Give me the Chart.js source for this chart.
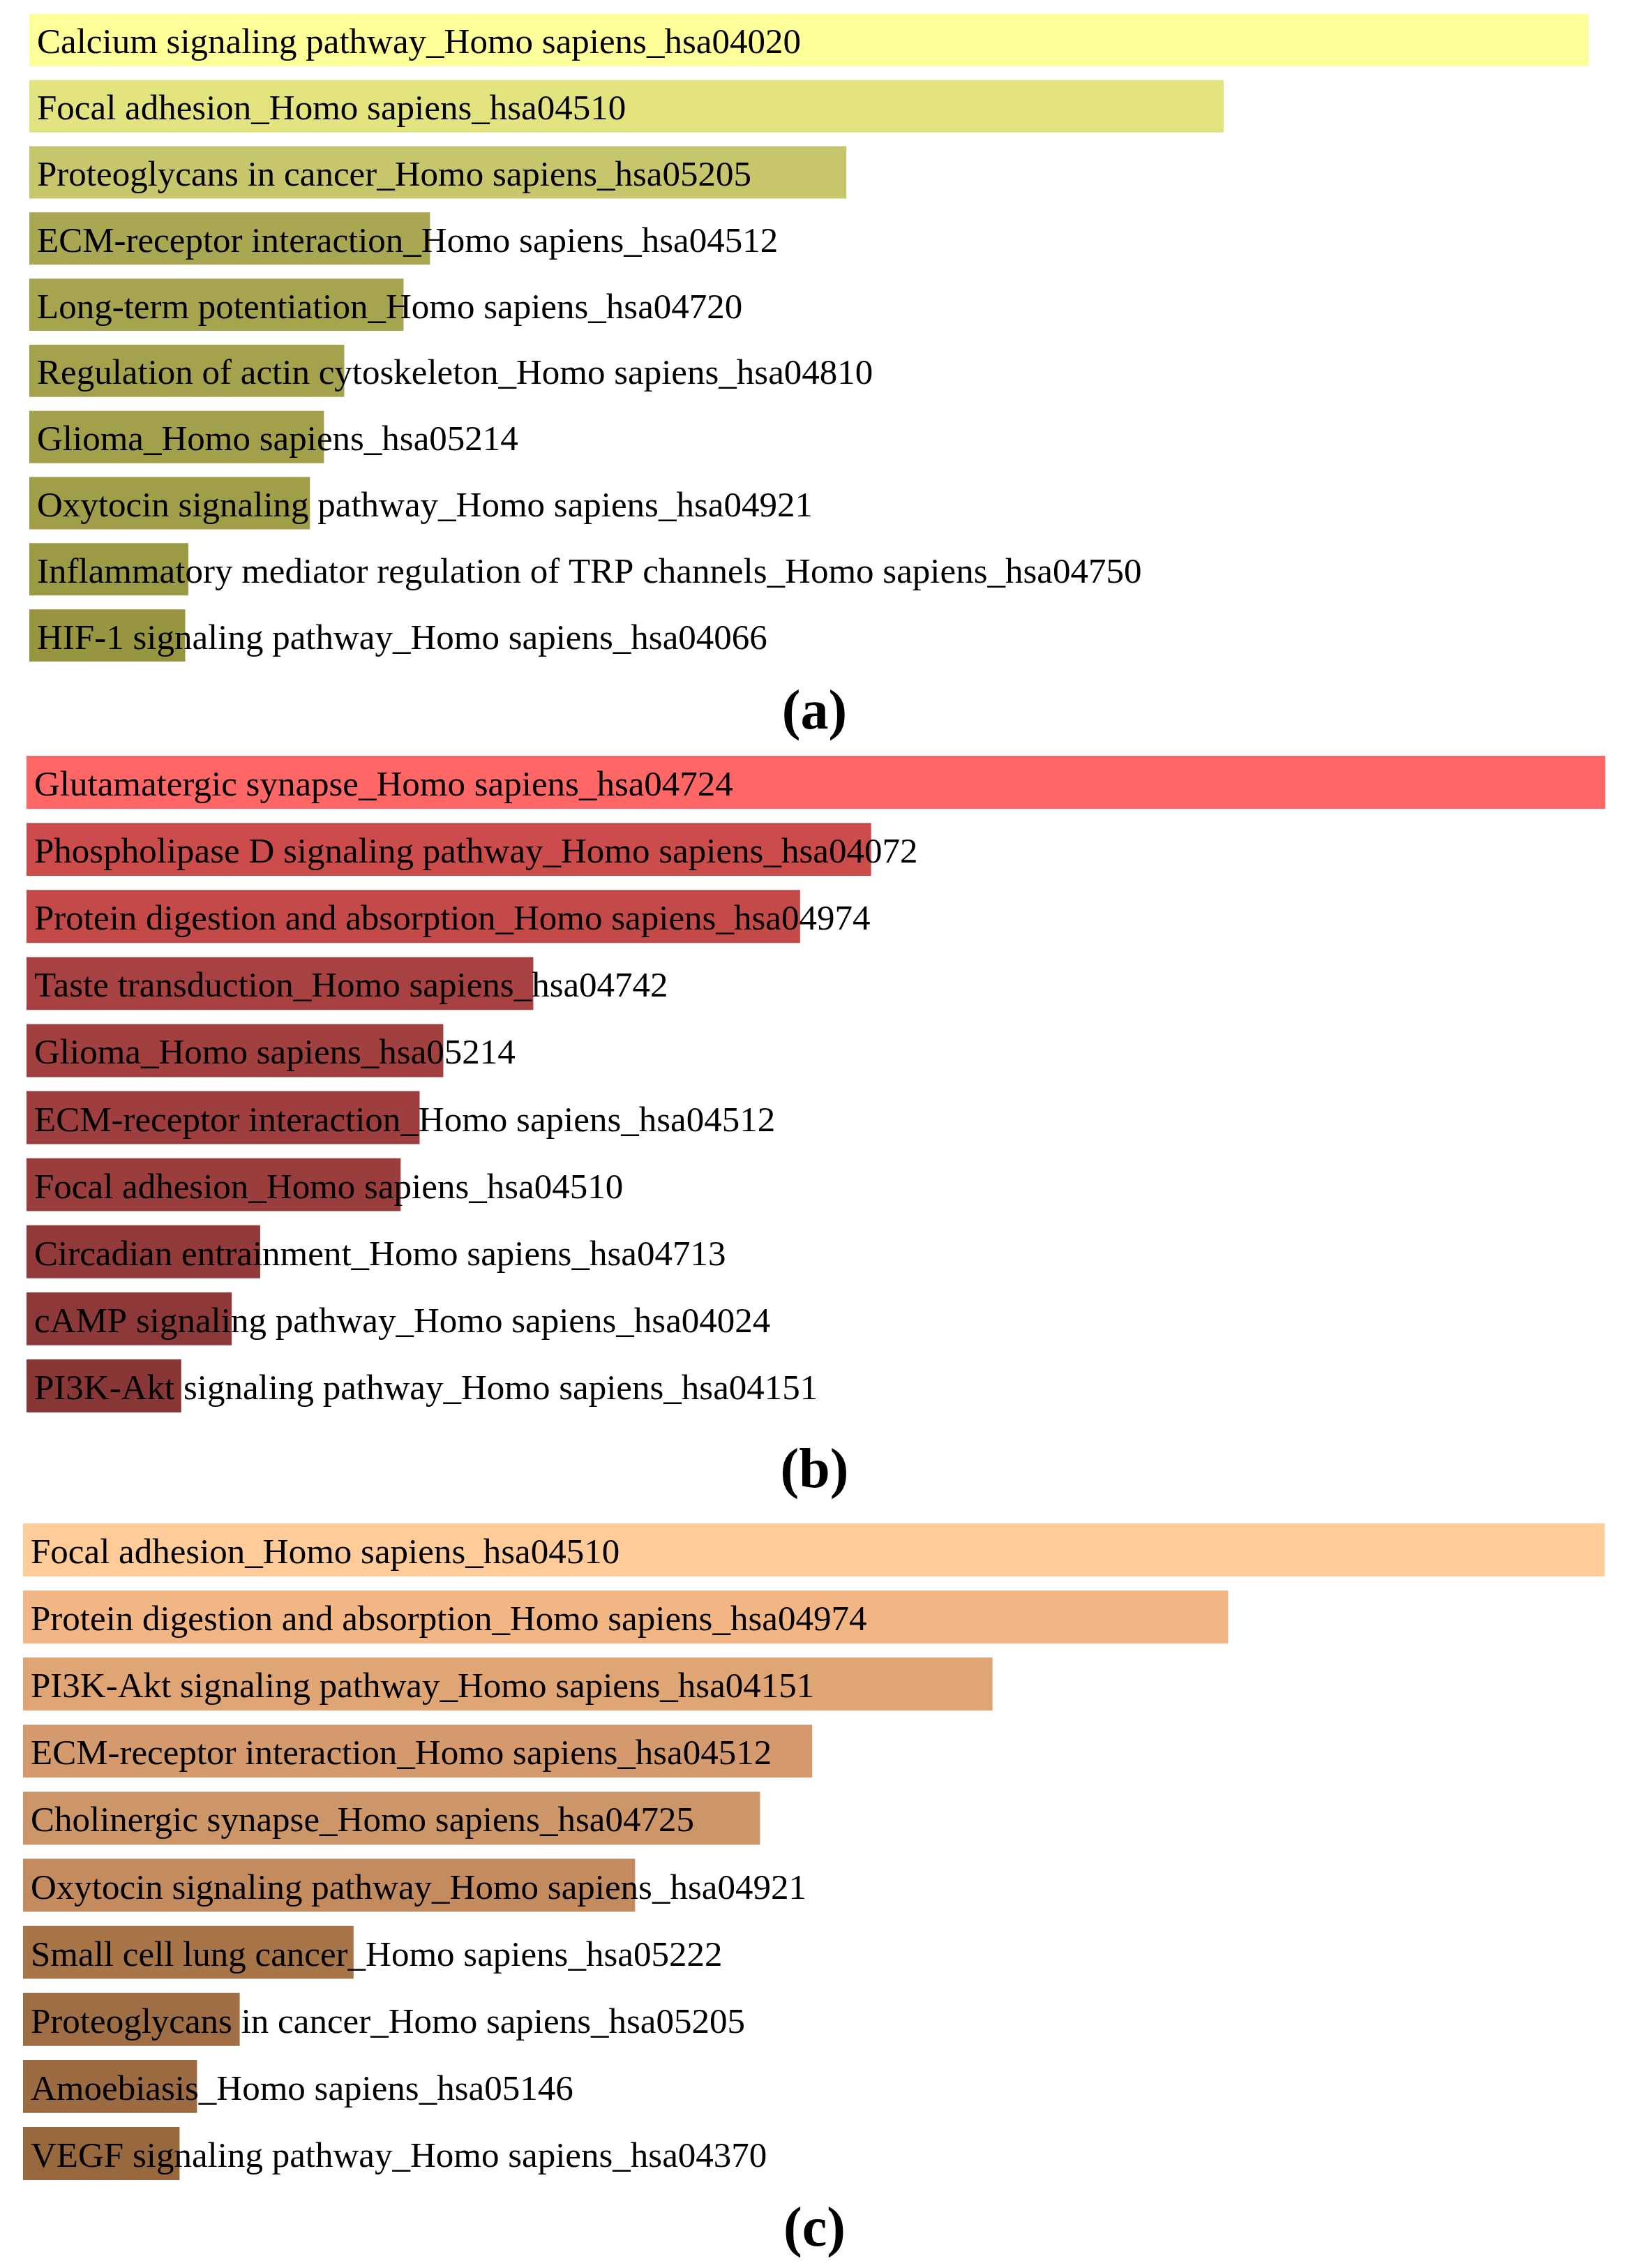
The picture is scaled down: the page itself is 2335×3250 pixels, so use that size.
<!DOCTYPE html>
<html>
<head>
<meta charset="utf-8">
<script src="https://cdn.jsdelivr.net/npm/chart.js@4/dist/chart.umd.min.js"></script>
<style>
    body { margin: 0; background: #fff; width: 2335px; height: 3250px; position: relative; overflow: hidden; }
    .panel { position: absolute; }
    .tag { position: absolute; left: 0; width: 2335px; text-align: center; font-family: "Liberation Serif", "DejaVu Serif", serif; font-weight: bold; font-size: 80px; line-height: 80px; color: #000; }
</style>
</head>
<body>
<div class="panel" id="wrap-a" style="left:42px;top:10px"><canvas id="chart-a"></canvas></div>
<div class="tag" style="top:977px">(a)</div>
<div class="panel" id="wrap-b" style="left:38px;top:1073px"><canvas id="chart-b"></canvas></div>
<div class="tag" style="top:2064px">(b)</div>
<div class="panel" id="wrap-c" style="left:33px;top:2173px"><canvas id="chart-c"></canvas></div>
<div class="tag" style="top:3151px">(c)</div>
<script>
// relative enrichment score (top pathway = 100)
const pathwaysA = [
    'Calcium signaling pathway_Homo sapiens_hsa04020',
    'Focal adhesion_Homo sapiens_hsa04510',
    'Proteoglycans in cancer_Homo sapiens_hsa05205',
    'ECM-receptor interaction_Homo sapiens_hsa04512',
    'Long-term potentiation_Homo sapiens_hsa04720',
    'Regulation of actin cytoskeleton_Homo sapiens_hsa04810',
    'Glioma_Homo sapiens_hsa05214',
    'Oxytocin signaling pathway_Homo sapiens_hsa04921',
    'Inflammatory mediator regulation of TRP channels_Homo sapiens_hsa04750',
    'HIF-1 signaling pathway_Homo sapiens_hsa04066'
];
const scoresA = [100, 76.6, 52.4, 25.7, 24.0, 20.2, 18.9, 18.0, 10.2, 10.0];
const colorsA = ['#ffff99', '#e3e37f', '#c8c66c', '#a9a752', '#a6a44f', '#a4a24c', '#a3a04b', '#a09e49', '#9c9a45', '#989541'];

const pathwaysB = [
    'Glutamatergic synapse_Homo sapiens_hsa04724',
    'Phospholipase D signaling pathway_Homo sapiens_hsa04072',
    'Protein digestion and absorption_Homo sapiens_hsa04974',
    'Taste transduction_Homo sapiens_hsa04742',
    'Glioma_Homo sapiens_hsa05214',
    'ECM-receptor interaction_Homo sapiens_hsa04512',
    'Focal adhesion_Homo sapiens_hsa04510',
    'Circadian entrainment_Homo sapiens_hsa04713',
    'cAMP signaling pathway_Homo sapiens_hsa04024',
    'PI3K-Akt signaling pathway_Homo sapiens_hsa04151'
];
const scoresB = [100, 53.5, 49.0, 32.1, 26.4, 24.9, 23.7, 14.8, 13.0, 9.8];
const colorsB = ['#ff6666', '#cc4c4c', '#c44a4a', '#a84141', '#a23f3f', '#9e3e3e', '#9a3d3d', '#923a3a', '#8e3939', '#893636'];

const pathwaysC = [
    'Focal adhesion_Homo sapiens_hsa04510',
    'Protein digestion and absorption_Homo sapiens_hsa04974',
    'PI3K-Akt signaling pathway_Homo sapiens_hsa04151',
    'ECM-receptor interaction_Homo sapiens_hsa04512',
    'Cholinergic synapse_Homo sapiens_hsa04725',
    'Oxytocin signaling pathway_Homo sapiens_hsa04921',
    'Small cell lung cancer_Homo sapiens_hsa05222',
    'Proteoglycans in cancer_Homo sapiens_hsa05205',
    'Amoebiasis_Homo sapiens_hsa05146',
    'VEGF signaling pathway_Homo sapiens_hsa04370'
];
const scoresC = [100, 76.2, 61.3, 49.9, 46.6, 38.7, 20.9, 13.7, 11.0, 9.9];
const colorsC = ['#ffcc99', '#f2b584', '#e0a574', '#d49a6d', '#cd9669', '#c48b5e', '#a87549', '#a06e44', '#9c6b42', '#98683f'];

// names are written from the bar start, over the bar
const namePlugin = {
    id: 'names',
    afterDatasetsDraw(chart) {
        let ctx = chart.ctx;
        let x0 = chart.scales.x.getPixelForValue(0);
        ctx.save();
        ctx.font = '51px "Liberation Serif", "DejaVu Serif", serif';
        ctx.fillStyle = '#000';
        ctx.textAlign = 'left';
        ctx.textBaseline = 'alphabetic';
        chart.getDatasetMeta(0).data.forEach((bar, i) => {
            ctx.fillText(chart.data.labels[i], x0 + 11, bar.y + 19);
        });
        ctx.restore();
    }
};

function makePanel(id, labels, values, colors, width, height) {
    let canvas = document.getElementById(id);
    canvas.width = width;
    canvas.height = height;
    canvas.style.width = width + 'px';
    canvas.style.height = height + 'px';
    return new Chart(canvas, {
        type: 'bar',
        data: {
            labels: labels,
            datasets: [{
                data: values,
                backgroundColor: colors,
                borderWidth: 0,
                barPercentage: 0.79,
                categoryPercentage: 1.0
            }]
        },
        options: {
            indexAxis: 'y',
            responsive: false,
            animation: false,
            devicePixelRatio: 1,
            layout: { padding: 0 },
            plugins: { legend: { display: false }, tooltip: { enabled: false } },
            scales: {
                x: { display: false, min: 0, max: 100 },
                y: { display: false }
            }
        },
        plugins: [namePlugin]
    });
}

makePanel('chart-a', pathwaysA, scoresA, colorsA, 2235, 948);
makePanel('chart-b', pathwaysB, scoresB, colorsB, 2263, 961);
makePanel('chart-c', pathwaysC, scoresC, colorsC, 2267, 961);
</script>
</body>
</html>
